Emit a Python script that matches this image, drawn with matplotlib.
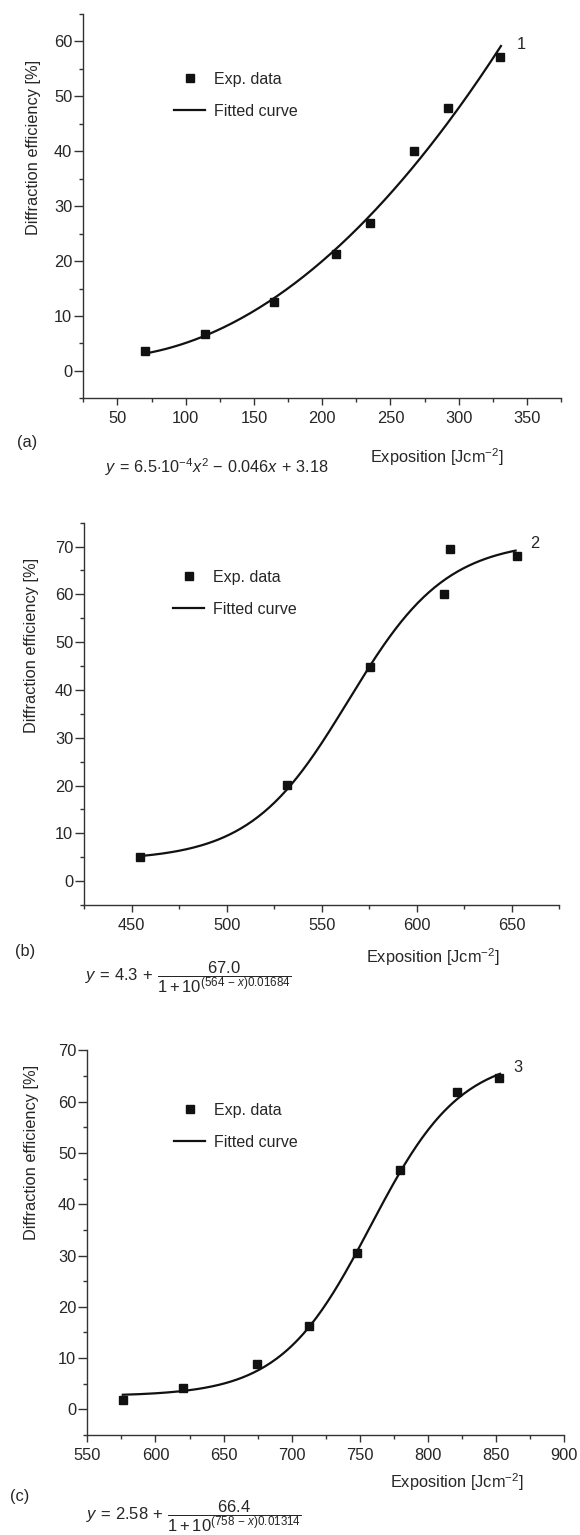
import numpy as np
import matplotlib
matplotlib.use("Agg")
import matplotlib.pyplot as plt
from matplotlib.ticker import MultipleLocator

plt.rcParams['font.family'] = ['Liberation Sans', 'DejaVu Sans']
plt.rcParams['mathtext.fontset'] = 'custom'
plt.rcParams['mathtext.rm'] = 'Liberation Sans'
plt.rcParams['mathtext.it'] = 'Liberation Sans:italic'
plt.rcParams['mathtext.bf'] = 'Liberation Sans:bold'

# ---------------- data ----------------
# (a) quadratic fit
a_x = [70, 114.5, 165, 210, 235, 267, 292.5, 330.5]
a_y = [3.6, 6.8, 12.6, 21.2, 27.0, 40.1, 47.9, 57.2]
a_coef = [6.5e-4, -0.046, 3.18]        # y = c0 x^2 + c1 x + c2
a_range = [70, 331]

# (b) logistic fit
b_x = [454.5, 531.5, 575.5, 614.2, 617.5, 652.5]
b_y = [5.0, 20.2, 44.9, 60.0, 69.6, 68.1]
b_par = [4.3, 67.0, 564, 0.01684]      # y = A + B / (1 + 10^((C - x) D))
b_range = [455, 652]

# (c) logistic fit
c_x = [576.3, 620.4, 674.6, 712.6, 747.8, 779.5, 821.2, 852.6]
c_y = [1.9, 4.1, 8.9, 16.3, 30.4, 46.7, 61.9, 64.7]
c_par = [2.58, 66.4, 758, 0.01314]
c_range = [576, 853]

TXT = '#262626'
INK = '#111111'
W, H = 580, 1535

fig = plt.figure(figsize=(W / 100, H / 100), dpi=100)


def fx(px):
    return px / W


def fy(py):
    return 1 - py / H


def make_axes(l, r, t, b):
    ax = fig.add_axes([fx(l), fy(b), fx(r) - fx(l), fy(t) - fy(b)])
    for s in ['top', 'right']:
        ax.spines[s].set_visible(False)
    for s in ['left', 'bottom']:
        ax.spines[s].set_linewidth(1.0)
        ax.spines[s].set_color('#333333')
    ax.tick_params(axis='both', which='major', direction='out', length=5,
                   width=1.0, color='#333333', labelsize=11.8, labelcolor=TXT)
    ax.tick_params(axis='both', which='minor', direction='out', length=3,
                   width=1.0, color='#333333')
    ax.tick_params(axis='y', which='major', length=6.5, pad=1.5)
    ax.tick_params(axis='x', which='major', pad=4)
    ax.yaxis.set_major_locator(MultipleLocator(10))
    ax.yaxis.set_minor_locator(MultipleLocator(5))
    ax.xaxis.set_major_locator(MultipleLocator(50))
    ax.xaxis.set_minor_locator(MultipleLocator(25))
    return ax


def quad(x, c):
    return c[0] * x ** 2 + c[1] * x + c[2]


def logistic(x, p):
    return p[0] + p[1] / (1 + 10 ** ((p[2] - x) * p[3]))


def legend(ax, left_px, top_px):
    ax.legend(loc='upper left', bbox_to_anchor=(fx(left_px), fy(top_px)),
              bbox_transform=fig.transFigure, frameon=False, fontsize=11.5,
              handlelength=1.95, handletextpad=0.55, labelspacing=1.05,
              borderpad=0, borderaxespad=0, numpoints=1, labelcolor=TXT)


def panel(ax, xs, ys, curve_x, curve_y, xlim, ylim, num, num_xy,
          ylab_y, ylab_x, leg_xy):
    ax.plot(xs, ys, 's', color=INK, ms=6.2, label='Exp. data', zorder=3)
    ax.plot(curve_x, curve_y, '-', color=INK, lw=1.6, label='Fitted curve')
    ax.set_xlim(*xlim)
    ax.set_ylim(*ylim)
    ax.text(num_xy[0], num_xy[1], num, fontsize=11.8, color=TXT,
            ha='center', va='center')
    ax.set_ylabel('Diffraction efficiency [%]', fontsize=11.8, color=TXT)
    ax.yaxis.set_label_coords(ylab_x, ylab_y)
    ax.yaxis.label.set_va('center')
    legend(ax, *leg_xy)


# ----- panel (a)
ax1 = make_axes(83.3, 561, 14, 398.3)
xa = np.linspace(a_range[0], a_range[1], 200)
panel(ax1, a_x, a_y, xa, quad(xa, a_coef), (25, 375), (-5, 65), '1',
      (346, 59.5), 0.654, -0.104, (174, 72))
fig.text(fx(437), fy(457), r'Exposition [Jcm$^{-2}$]', fontsize=11.8,
         color=TXT, ha='center', va='center')
fig.text(fx(27), fy(443), '(a)', fontsize=11.8, color=TXT,
         ha='center', va='center')
fig.text(fx(105), fy(467), r'$y\,=\,6.5{\cdot}10^{-4}x^{2}\,-\,0.046x\,+\,3.18$',
         fontsize=11.7, color=TXT, ha='left', va='center')

# ----- panel (b)
ax2 = make_axes(84.3, 559.3, 522.7, 905)
xb = np.linspace(b_range[0], b_range[1], 200)
panel(ax2, b_x, b_y, xb, logistic(xb, b_par), (425, 675), (-5, 75), '2',
      (662, 70.6), 0.68, -0.112, (173.3, 570))
fig.text(fx(432.5), fy(956.7), r'Exposition [Jcm$^{-2}$]', fontsize=11.8,
         color=TXT, ha='center', va='center')
fig.text(fx(25), fy(951.7), '(b)', fontsize=11.8, color=TXT,
         ha='center', va='center')
fig.text(fx(85), fy(977),
         r'$y\,=\,4.3\,+\,\dfrac{67.0}{1+10^{(564\,-\,x)0.01684}}$',
         fontsize=12.0, color=TXT, ha='left', va='center')

# ----- panel (c)
ax3 = make_axes(87.4, 564, 1050.4, 1435)
xc = np.linspace(c_range[0], c_range[1], 200)
panel(ax3, c_x, c_y, xc, logistic(xc, c_par), (550, 900), (-5, 70), '3',
      (866.4, 66.6), 0.734, -0.117, (174, 1103))
fig.text(fx(457), fy(1481.7), r'Exposition [Jcm$^{-2}$]', fontsize=11.8,
         color=TXT, ha='center', va='center')
fig.text(fx(20), fy(1497), '(c)', fontsize=11.8, color=TXT,
         ha='center', va='center')
fig.text(fx(85.5), fy(1516),
         r'$y\,=\,2.58\,+\,\dfrac{66.4}{1+10^{(758\,-\,x)0.01314}}$',
         fontsize=12.0, color=TXT, ha='left', va='center')

fig.savefig('out.png', dpi=100)
